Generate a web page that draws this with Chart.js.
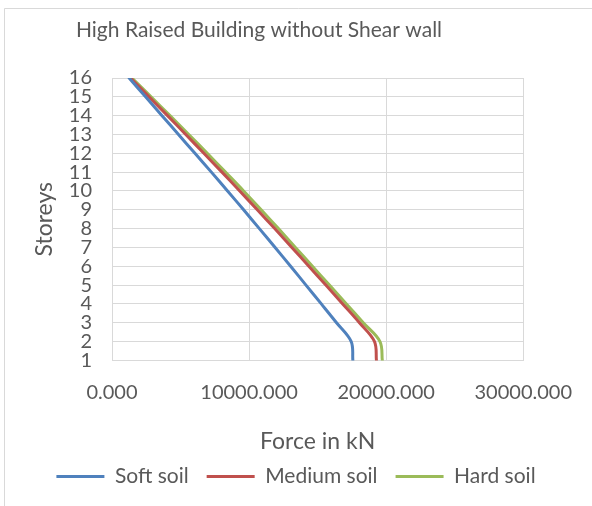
<!DOCTYPE html>
<html>
<head>
<meta charset="utf-8">
<script src="https://cdn.jsdelivr.net/npm/chart.js@4.4.1/dist/chart.umd.min.js"></script>
<style>
  html, body { margin: 0; padding: 0; background: #ffffff; }
  #wrap { position: relative; width: 592px; height: 506px; }
</style>
</head>
<body>
<div id="wrap"><canvas id="c" width="592" height="506"></canvas></div>
<script>
// Storey numbers and storey shear force (kN) for each soil type
const storeys    = [1, 2, 3, 4, 5, 6, 7, 8, 9, 10, 11, 12, 13, 14, 15, 16];
const softSoil   = [17570, 17450, 16380, 15270, 14150, 13030, 11900, 10750, 9600, 8430, 7250, 6050, 4850, 3650, 2450, 1250];
const mediumSoil = [19290, 19150, 18050, 16830, 15600, 14360, 13120, 11870, 10600, 9320, 8020, 6700, 5380, 4050, 2700, 1350];
const hardSoil   = [19720, 19550, 18330, 17100, 15860, 14620, 13380, 12140, 10880, 9600, 8280, 6950, 5600, 4230, 2850, 1450];
const forceTicks = [0, 10000, 20000, 30000];

const FONT = 'Lato';
const TEXT = '#595959';
const GRID = '#d9d9d9';

const toPoints = vals => vals.map((v, i) => ({ x: v, y: storeys[i] }));

// Outer frame and chart heading
const framePlugin = {
  id: 'frame',
  beforeDraw(chart) {
    const ctx = chart.ctx;
    ctx.save();
    ctx.fillStyle = '#ffffff';
    ctx.fillRect(0, 0, chart.width, chart.height);
    ctx.strokeStyle = GRID;
    ctx.lineWidth = 1;
    ctx.beginPath();
    ctx.moveTo(4.5, chart.height + 1);
    ctx.lineTo(4.5, 8.5);
    ctx.lineTo(chart.width + 1, 8.5);
    ctx.stroke();
    ctx.restore();
  },
  afterDraw(chart) {
    const ctx = chart.ctx;
    ctx.save();
    ctx.fillStyle = TEXT;
    ctx.font = '21px ' + FONT;
    ctx.textAlign = 'center';
    ctx.textBaseline = 'alphabetic';
    ctx.fillText('High Raised Building without Shear wall', 259, 37);
    ctx.restore();
  }
};

new Chart(document.getElementById('c'), {
  type: 'line',
  data: {
    datasets: [
      { label: 'Soft soil',   data: toPoints(softSoil),   borderColor: '#4F81BD', backgroundColor: '#4F81BD' },
      { label: 'Medium soil', data: toPoints(mediumSoil), borderColor: '#C0504D', backgroundColor: '#C0504D' },
      { label: 'Hard soil',   data: toPoints(hardSoil),   borderColor: '#9BBB59', backgroundColor: '#9BBB59' }
    ]
  },
  options: {
    responsive: false,
    animation: false,
    indexAxis: 'y',
    layout: { padding: { left: 0, right: 0, top: 78, bottom: 9 } },
    elements: {
      line: { borderWidth: 3, tension: 0.35, borderCapStyle: 'round' },
      point: { radius: 0, hoverRadius: 0 }
    },
    scales: {
      x: {
        type: 'linear',
        min: 0,
        max: 30000,
        afterFit: s => { s.height = s.height + 3; },
        afterBuildTicks: s => { s.ticks = forceTicks.map(v => ({ value: v })); },
        ticks: {
          color: TEXT,
          font: { family: FONT, size: 20 },
          padding: 20,
          maxRotation: 0,
          callback: v => Number(v).toFixed(3)
        },
        grid: { color: GRID, drawTicks: false },
        border: { color: GRID },
        title: {
          display: true,
          text: 'Force in kN',
          color: TEXT,
          font: { family: FONT, size: 23 },
          padding: { top: 0, bottom: -7 }
        }
      },
      y: {
        type: 'linear',
        min: 1,
        max: 16,
        afterFit: s => { s.width = 112; },
        afterBuildTicks: s => { s.ticks = storeys.map(v => ({ value: v })); },
        ticks: {
          color: TEXT,
          font: { family: FONT, size: 20 },
          padding: 20,
          autoSkip: false,
          callback: v => String(v)
        },
        grid: { color: GRID, drawTicks: false },
        border: { color: GRID },
        title: {
          display: true,
          text: 'Storeys',
          color: TEXT,
          font: { family: FONT, size: 23 },
          padding: { top: 31, bottom: 0 }
        }
      },
      // empty right-hand margin beside the plot
      yRight: {
        type: 'linear',
        position: 'right',
        min: 1,
        max: 16,
        afterFit: s => { s.width = 67; },
        ticks: { display: false },
        grid: { display: false },
        border: { display: false }
      }
    },
    plugins: {
      title: { display: false },
      tooltip: { enabled: false },
      legend: {
        display: true,
        position: 'bottom',
        labels: {
          color: TEXT,
          font: { family: FONT, size: 21 },
          boxWidth: 48,
          boxHeight: 0,
          padding: 18
        }
      }
    }
  },
  plugins: [framePlugin]
});
</script>
</body>
</html>
